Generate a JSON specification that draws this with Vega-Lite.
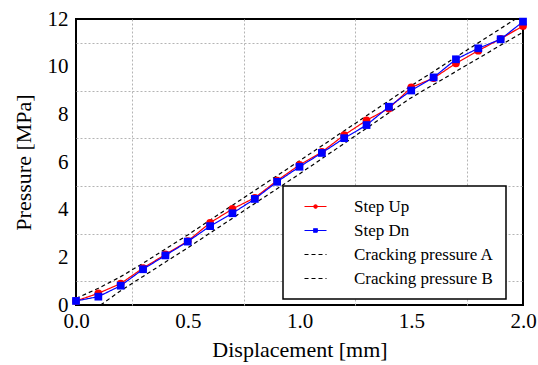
{
  "$schema": "https://vega.github.io/schema/vega-lite/v6.json",
  "width": 447,
  "height": 286,
  "autosize": "none",
  "padding": {"left": 76, "top": 19, "right": 15, "bottom": 60},
  "background": "white",
  "config": {
    "font": "Liberation Serif, Times New Roman, serif",
    "view": {"stroke": "black", "strokeWidth": 2},
    "axis": {
      "ticks": false,
      "domain": false,
      "gridOpacity": 1,
      "gridWidth": 1,
      "labelFontSize": 21,
      "labelColor": "black",
      "titleFontSize": 22,
      "titleFontWeight": "normal",
      "titleColor": "black",
      "labelFlush": false
    },
    "legend": {
      "labelFont": "Liberation Serif",
      "labelFontSize": 17,
      "labelColor": "black"
    }
  },
  "resolve": {"axis": {"x": "independent", "y": "independent"}},
  "data": {
    "values": [
      {"x": 0.0, "y": 0.17, "series": "Step Up"},
      {"x": 0.1, "y": 0.49, "series": "Step Up"},
      {"x": 0.2, "y": 0.9, "series": "Step Up"},
      {"x": 0.3, "y": 1.55, "series": "Step Up"},
      {"x": 0.4, "y": 2.12, "series": "Step Up"},
      {"x": 0.5, "y": 2.68, "series": "Step Up"},
      {"x": 0.6, "y": 3.45, "series": "Step Up"},
      {"x": 0.7, "y": 4.03, "series": "Step Up"},
      {"x": 0.8, "y": 4.5, "series": "Step Up"},
      {"x": 0.9, "y": 5.22, "series": "Step Up"},
      {"x": 1.0, "y": 5.88, "series": "Step Up"},
      {"x": 1.1, "y": 6.42, "series": "Step Up"},
      {"x": 1.2, "y": 7.13, "series": "Step Up"},
      {"x": 1.3, "y": 7.75, "series": "Step Up"},
      {"x": 1.4, "y": 8.25, "series": "Step Up"},
      {"x": 1.5, "y": 9.13, "series": "Step Up"},
      {"x": 1.6, "y": 9.52, "series": "Step Up"},
      {"x": 1.7, "y": 10.14, "series": "Step Up"},
      {"x": 1.8, "y": 10.67, "series": "Step Up"},
      {"x": 1.9, "y": 11.17, "series": "Step Up"},
      {"x": 2.0, "y": 11.71, "series": "Step Up"},
      {"x": 0.0, "y": 0.17, "series": "Step Dn"},
      {"x": 0.1, "y": 0.35, "series": "Step Dn"},
      {"x": 0.2, "y": 0.81, "series": "Step Dn"},
      {"x": 0.3, "y": 1.5, "series": "Step Dn"},
      {"x": 0.4, "y": 2.08, "series": "Step Dn"},
      {"x": 0.5, "y": 2.66, "series": "Step Dn"},
      {"x": 0.6, "y": 3.31, "series": "Step Dn"},
      {"x": 0.7, "y": 3.85, "series": "Step Dn"},
      {"x": 0.8, "y": 4.45, "series": "Step Dn"},
      {"x": 0.9, "y": 5.17, "series": "Step Dn"},
      {"x": 1.0, "y": 5.8, "series": "Step Dn"},
      {"x": 1.1, "y": 6.38, "series": "Step Dn"},
      {"x": 1.2, "y": 7.0, "series": "Step Dn"},
      {"x": 1.3, "y": 7.55, "series": "Step Dn"},
      {"x": 1.4, "y": 8.32, "series": "Step Dn"},
      {"x": 1.5, "y": 9.0, "series": "Step Dn"},
      {"x": 1.6, "y": 9.55, "series": "Step Dn"},
      {"x": 1.7, "y": 10.31, "series": "Step Dn"},
      {"x": 1.8, "y": 10.77, "series": "Step Dn"},
      {"x": 1.9, "y": 11.15, "series": "Step Dn"},
      {"x": 2.0, "y": 11.89, "series": "Step Dn"},
      {"x": 0.0, "y": 0.28, "series": "Cracking pressure A"},
      {"x": 0.1, "y": 0.7, "series": "Cracking pressure A"},
      {"x": 0.2, "y": 1.19, "series": "Cracking pressure A"},
      {"x": 0.3, "y": 1.75, "series": "Cracking pressure A"},
      {"x": 0.4, "y": 2.35, "series": "Cracking pressure A"},
      {"x": 0.5, "y": 2.94, "series": "Cracking pressure A"},
      {"x": 1.0, "y": 6.05, "series": "Cracking pressure A"},
      {"x": 1.5, "y": 9.2, "series": "Cracking pressure A"},
      {"x": 2.0, "y": 12.2, "series": "Cracking pressure A"},
      {"x": 0.11, "y": 0.0, "series": "Cracking pressure B"},
      {"x": 0.2, "y": 0.6, "series": "Cracking pressure B"},
      {"x": 0.3, "y": 1.2, "series": "Cracking pressure B"},
      {"x": 0.5, "y": 2.4, "series": "Cracking pressure B"},
      {"x": 1.0, "y": 5.5, "series": "Cracking pressure B"},
      {"x": 1.5, "y": 8.7, "series": "Cracking pressure B"},
      {"x": 2.0, "y": 11.45, "series": "Cracking pressure B"}
    ]
  },
  "layer": [
    {
      "mark": {"type": "line", "strokeWidth": 1.2, "clip": true},
      "encoding": {
        "x": {
          "field": "x",
          "type": "quantitative",
          "scale": {"domain": [0, 2], "nice": false, "zero": false},
          "axis": {
            "orient": "bottom",
            "title": null,
            "values": [0.25, 0.75, 1.25, 1.75],
            "labels": false,
            "gridDash": [2, 2],
            "gridColor": "#b4b4b4"
          }
        },
        "y": {
          "field": "y",
          "type": "quantitative",
          "scale": {"domain": [0, 12], "nice": false},
          "axis": {
            "orient": "left",
            "title": null,
            "values": [1, 3, 5, 7, 9, 11],
            "labels": false,
            "gridDash": [2, 2],
            "gridColor": "#b4b4b4"
          }
        },
        "color": {
          "field": "series",
          "type": "nominal",
          "scale": {
            "domain": ["Step Up", "Step Dn", "Cracking pressure A", "Cracking pressure B"],
            "range": ["#ff0000", "#0000ff", "#000000", "#000000"]
          },
          "legend": {
            "title": null,
            "orient": "none",
            "legendX": 207,
            "legendY": 167,
            "padding": 12,
            "fillColor": "white",
            "strokeColor": "black",
            "symbolSize": 100,
            "symbolStrokeWidth": 1.2,
            "symbolOffset": 12,
            "labelOffset": 30,
            "rowPadding": 6,
            "encode": {
              "legend": {"update": {"strokeWidth": {"value": 1.5}}},
              "symbols": {
                "update": {
                  "shape": {"signal": "datum.value == 'Step Up' ? 'M-2.2,0H2.2M-0.32,0A0.32,0.32,0,1,1,0.32,0A0.32,0.32,0,1,1,-0.32,0Z' : datum.value == 'Step Dn' ? 'M-2.2,0H2.2M-0.35,-0.35H0.35V0.35H-0.35Z' : 'M-2.2,0H2.2'"},
                  "fill": {"signal": "datum.value == 'Step Up' ? '#ff0000' : datum.value == 'Step Dn' ? '#0000ff' : 'transparent'"}
                }
              }
            }
          }
        },
        "strokeDash": {
          "field": "series",
          "type": "nominal",
          "scale": {
            "domain": ["Step Up", "Step Dn", "Cracking pressure A", "Cracking pressure B"],
            "range": [[1, 0], [1, 0], [4, 3], [4, 3]]
          },
          "legend": null
        }
      }
    },
    {
      "transform": [{"filter": "datum.series == 'Step Up' || datum.series == 'Step Dn'"}],
      "mark": {"type": "point", "filled": true, "opacity": 1, "size": 60},
      "encoding": {
        "x": {
          "field": "x",
          "type": "quantitative",
          "axis": {
            "orient": "bottom",
            "title": "Displacement [mm]",
            "labelFont": "Times New Roman",
            "titleFont": "Times New Roman",
            "values": [0, 0.5, 1, 1.5, 2],
            "format": ".1f",
            "labelPadding": 5,
            "titlePadding": 8,
            "gridColor": "#999999"
          }
        },
        "y": {
          "field": "y",
          "type": "quantitative",
          "axis": {
            "orient": "left",
            "title": "Pressure [MPa]",
            "labelFont": "Times New Roman",
            "titleFont": "Times New Roman",
            "values": [0, 2, 4, 6, 8, 10, 12],
            "labelPadding": 8,
            "titlePadding": 12,
            "gridColor": "#999999"
          }
        },
        "color": {"field": "series", "type": "nominal", "legend": null},
        "shape": {
          "field": "series",
          "type": "nominal",
          "scale": {"domain": ["Step Up", "Step Dn"], "range": ["circle", "square"]},
          "legend": null
        }
      }
    }
  ]
}
